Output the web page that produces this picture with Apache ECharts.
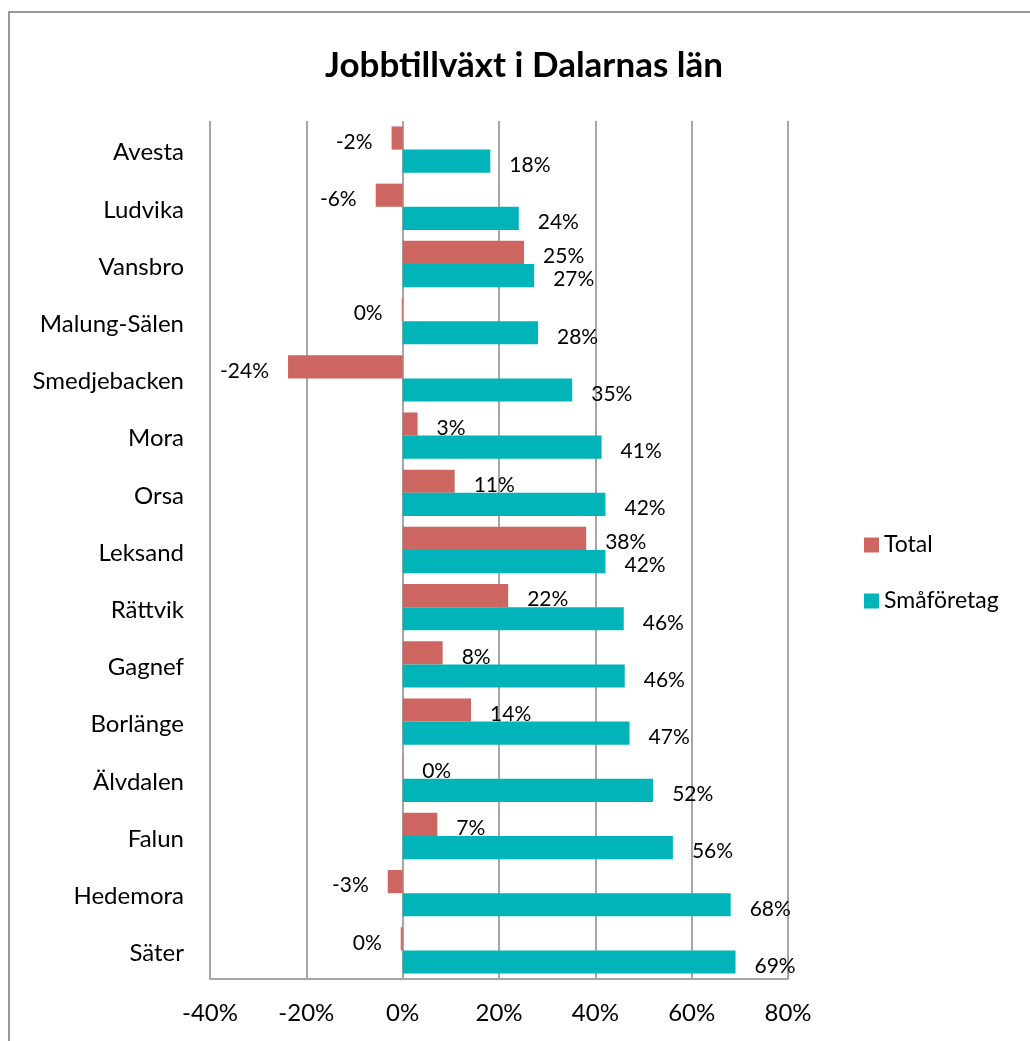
<!DOCTYPE html>
<html>
<head>
<meta charset="utf-8">
<script src="https://cdn.jsdelivr.net/npm/echarts@6/dist/echarts.min.js"></script>
<style>
html,body{margin:0;padding:0;background:#fff;}
#chart{width:1030px;height:1041px;}
</style>
</head>
<body>
<div id="chart"></div>
<script>
const categories = ['Avesta','Ludvika','Vansbro','Malung-Sälen','Smedjebacken','Mora','Orsa','Leksand','Rättvik','Gagnef','Borlänge','Älvdalen','Falun','Hedemora','Säter'];
const totalValues = [-2.3, -5.6, 25.2, -0.2, -23.8, 3.1, 10.8, 38.1, 21.9, 8.3, 14.2, 0.1, 7.2, -3.1, -0.4];
const smaValues = [18.2, 24.1, 27.3, 28.1, 35.2, 41.3, 42.1, 42.1, 45.9, 46.1, 47.1, 52.0, 56.1, 68.1, 69.1];
const xTicks = [-40, -20, 0, 20, 40, 60, 80];
const seriesNames = ['Total', 'Småföretag'];
const FONT = 'Lato';

function toItems(arr) {
  return arr.map(v => ({ value: v, label: { position: v < 0 ? 'left' : 'right' } }));
}
const labelCfg = {
  show: true,
  distance: 19,
  offset: [0, 4],
  fontFamily: FONT,
  fontSize: 21,
  color: '#000',
  formatter: p => Math.round(p.value) + '%'
};

const chart = echarts.init(document.getElementById('chart'), null, { renderer: 'canvas' });
chart.setOption({
  backgroundColor: '#fff',
  animation: false,
  title: {
    text: 'Jobbtillväxt i Dalarnas län',
    left: 519,
    top: 43,
    textAlign: 'center',
    textStyle: { fontFamily: FONT, fontWeight: 'bold', fontSize: 35, color: '#000' }
  },
  graphic: [{
    type: 'rect',
    shape: { x: 9, y: 12, width: 1040, height: 1040 },
    style: { fill: 'none', stroke: '#9a9a9a', lineWidth: 2 },
    silent: true
  }],
  legend: {
    orient: 'vertical',
    left: 859,
    top: 525,
    itemWidth: 15,
    itemHeight: 15,
    itemGap: 26,
    icon: 'rect',
    data: seriesNames,
    textStyle: { fontFamily: FONT, fontSize: 23, color: '#000', lineHeight: 30 }
  },
  grid: { left: 210, right: 242, top: 121, bottom: 62, containLabel: false },
  xAxis: {
    type: 'value',
    min: xTicks[0],
    max: xTicks[xTicks.length - 1],
    interval: 20,
    axisLine: { show: true, onZero: false, lineStyle: { color: '#a6a6a6', width: 2 } },
    axisTick: { show: false },
    splitLine: { show: true, lineStyle: { color: '#a6a6a6', width: 2 } },
    axisLabel: { fontFamily: FONT, fontSize: 24, color: '#000', margin: 22, formatter: '{value}%' }
  },
  yAxis: {
    type: 'category',
    data: categories,
    inverse: true,
    axisLine: { show: false },
    axisTick: { show: false },
    splitLine: { show: false },
    axisLabel: {
      fontFamily: FONT, fontSize: 24, color: '#000', margin: 26,
      formatter: v => '{a|' + v + '}',
      rich: { a: { fontFamily: FONT, fontSize: 24, color: '#000', padding: [6, 0, 0, 0] } }
    }
  },
  series: [
    {
      name: seriesNames[0],
      type: 'bar',
      data: toItems(totalValues),
      barGap: '0%',
      barCategoryGap: '19%',
      itemStyle: { color: '#cd6660' },
      label: labelCfg
    },
    {
      name: seriesNames[1],
      type: 'bar',
      data: toItems(smaValues),
      barGap: '0%',
      barCategoryGap: '19%',
      itemStyle: { color: '#00b4b9' },
      label: labelCfg
    }
  ]
});
</script>
</body>
</html>
